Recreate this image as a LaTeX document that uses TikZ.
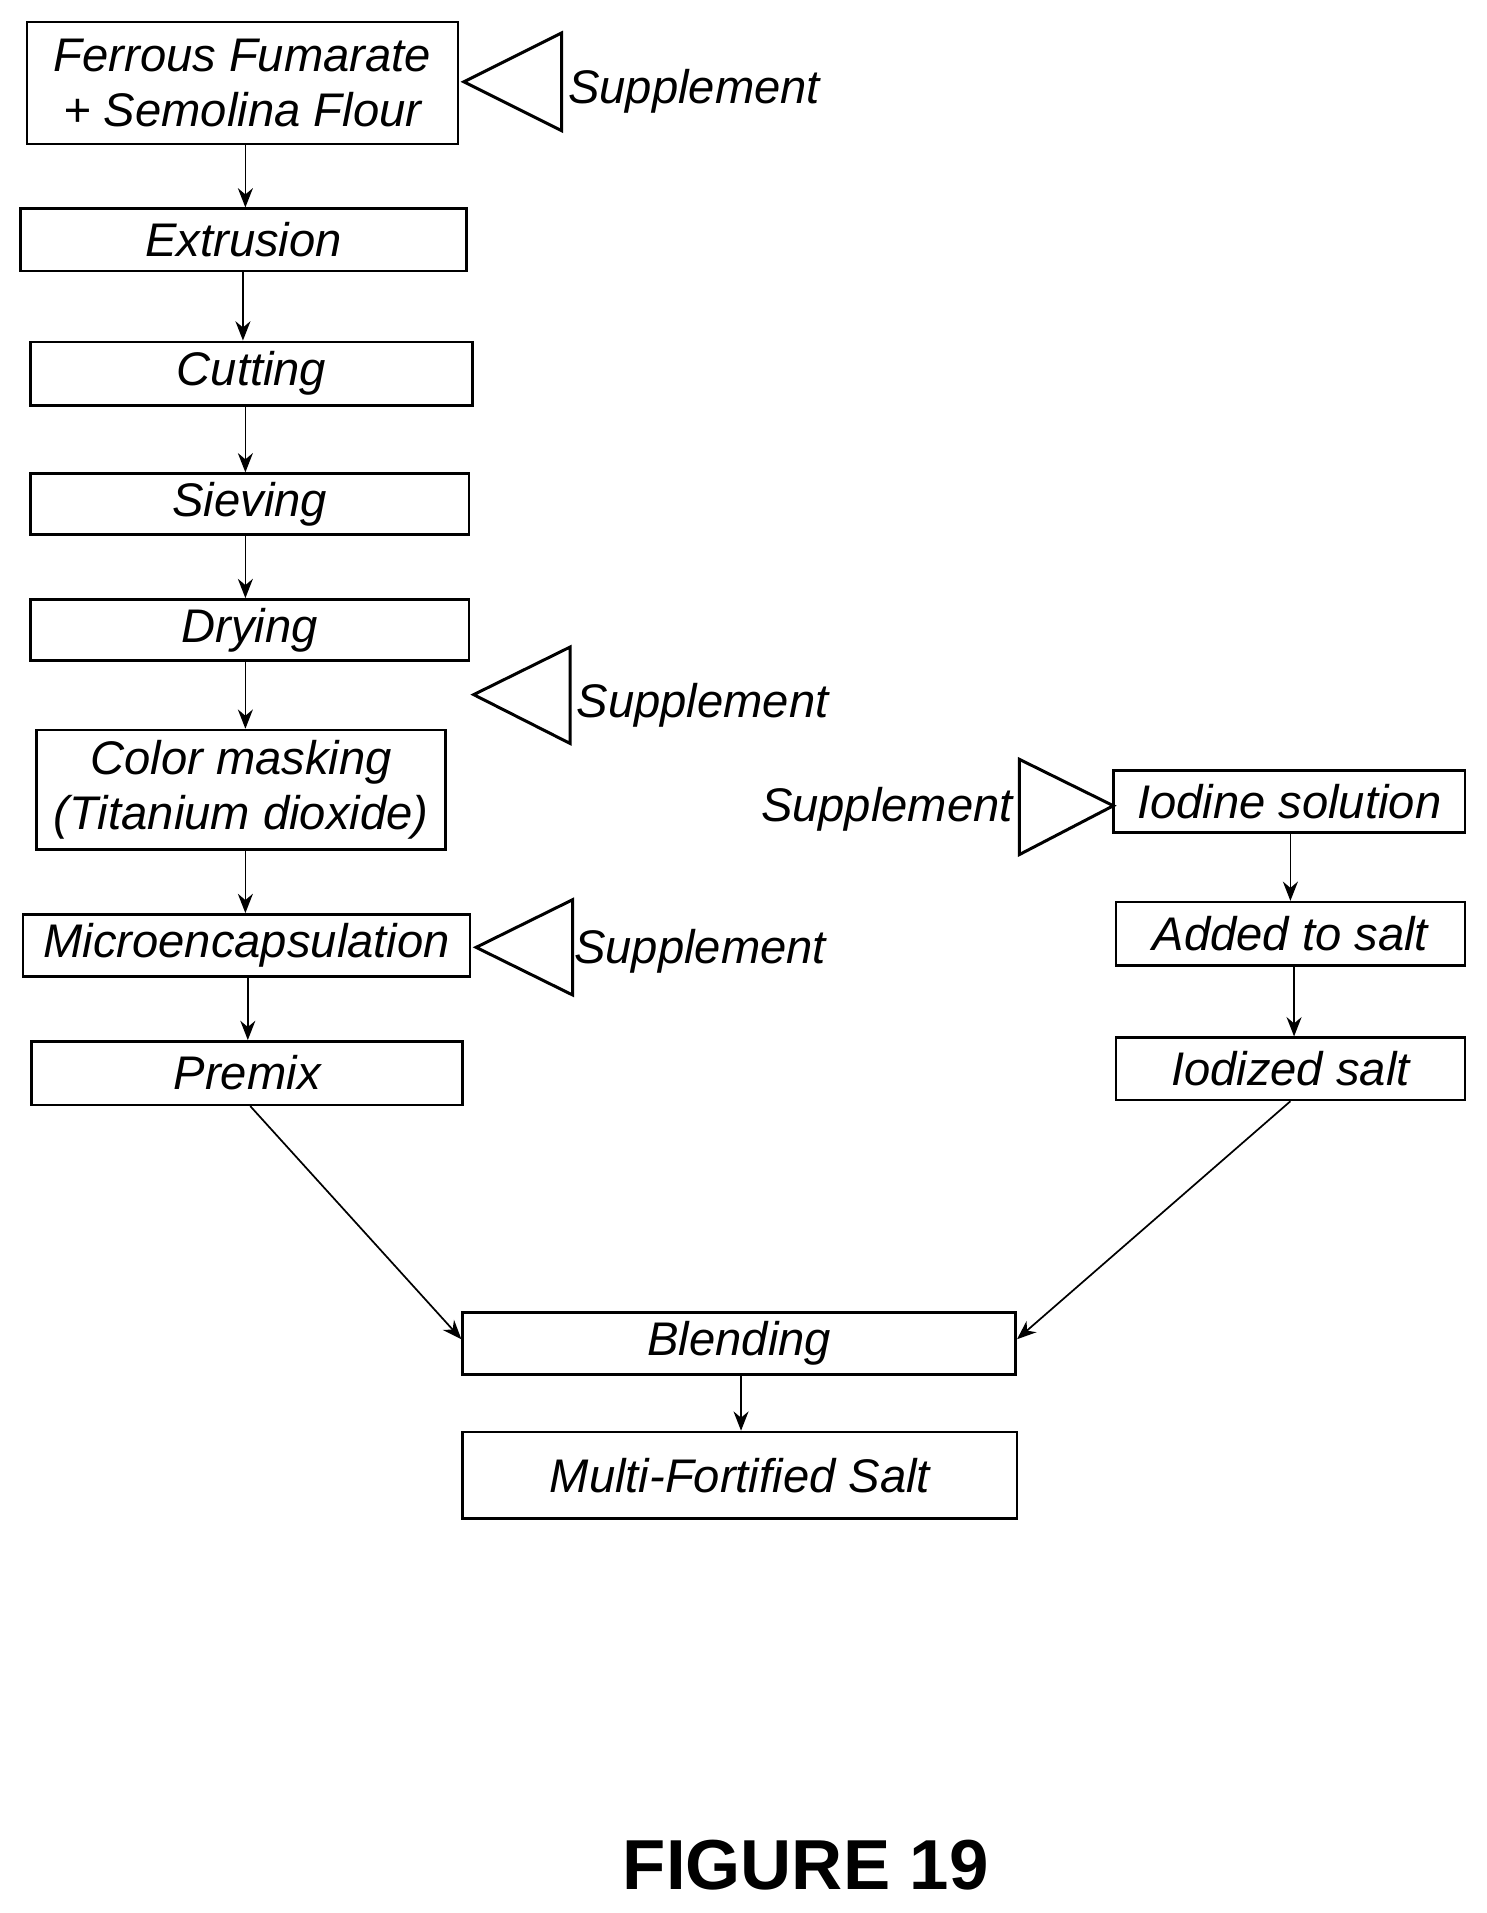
\documentclass[tikz,border=0pt]{standalone}
\usepackage{fontspec}
\setmainfont{Liberation Sans}
\usetikzlibrary{arrows.meta}
\begin{document}
\begin{tikzpicture}[x=0.02cm,y=-0.02cm,
  box/.style={draw,line width=1.2pt,inner sep=0pt,font=\fontsize{22}{26}\selectfont\itshape,align=center},
  lbl/.style={font=\fontsize{22}{26}\selectfont\itshape,inner sep=0pt},
  tri/.style={draw,line width=1.4pt},
  arr/.style={-{Stealth[length=9pt,width=7pt]},line width=0.8pt}]
\useasboundingbox (0,0) rectangle (1218,1567);
\newcommand\bx[6]{\node[box,minimum width=#4*0.02cm-#2*0.02cm,minimum height=#5*0.02cm-#3*0.02cm] (#1) at ({(#2+#4)/2},{(#3+#5)/2}) {#6};}
\bx{ff}{22}{18}{375}{118}{Ferrous Fumarate\\+ Semolina Flour}
\bx{ex}{17}{171}{382}{222}{Extrusion}
\bx{cu}{25}{280}{387}{332}{Cutting}
\bx{si}{25}{388}{384}{438}{Sieving}
\bx{dr}{25}{491}{384}{541}{Drying}
\bx{cm}{30}{598}{365}{696}{Color masking\\(Titanium dioxide)}
\bx{mi}{19}{749}{385}{800}{Microencapsulation}
\bx{pr}{26}{853}{379}{905}{Premix}
\bx{io}{912}{631}{1200}{682}{Iodine solution}
\bx{ad}{914}{739}{1200}{791}{Added to salt}
\bx{iz}{914}{850}{1200}{901}{Iodized salt}
\bx{bl}{379}{1075}{832}{1126}{Blending}
\bx{mf}{379}{1173}{833}{1244}{Multi-Fortified Salt}
\draw[tri] (380,67) -- (460,27) -- (460,107) -- cycle;
\draw[tri] (388,569) -- (467,530) -- (467,609) -- cycle;
\draw[tri] (390,776) -- (469,737) -- (469,815) -- cycle;
\draw[tri] (912,660) -- (835,622) -- (835,700) -- cycle;
\node[lbl,anchor=west] (s1) at (465,75) {Supplement};
\node[lbl,anchor=west] (s2) at (472,578) {Supplement};
\node[lbl,anchor=west] (s3) at (470,779) {Supplement};
\node[lbl,anchor=east] (s4) at (830,663) {Supplement};
\draw[arr] (ff.south -| 201,0) -- (ex.north -| 201,0);
\draw[arr] (ex.south -| 199,0) -- (cu.north -| 199,0);
\draw[arr] (cu.south -| 201,0) -- (si.north -| 201,0);
\draw[arr] (si.south -| 201,0) -- (dr.north -| 201,0);
\draw[arr] (dr.south -| 201,0) -- (cm.north -| 201,0);
\draw[arr] (cm.south -| 201,0) -- (mi.north -| 201,0);
\draw[arr] (mi.south -| 203,0) -- (pr.north -| 203,0);
\draw[arr] (io.south -| 1057,0) -- (ad.north -| 1057,0);
\draw[arr] (ad.south -| 1060,0) -- (iz.north -| 1060,0);
\draw[arr] (pr.south -| 205,0) -- (bl.west |- 0,1097);
\draw[arr] (iz.south -| 1057,0) -- (bl.east |- 0,1097);
\draw[arr] (bl.south -| 607,0) -- (mf.north -| 607,0);
\node[font=\fontsize{33}{38}\selectfont\bfseries,inner sep=0pt] (fig) at (660,1528) {FIGURE 19};
\end{tikzpicture}
\end{document}
